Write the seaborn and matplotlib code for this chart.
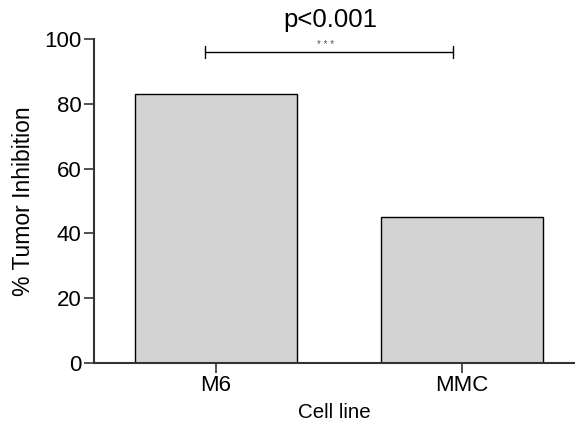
import pandas as pd
import seaborn as sns
import matplotlib.pyplot as plt

cell_lines = ["M6", "MMC"]
inhibition = [83, 45]
p_label = "p<0.001"
stars = "* * *"

df = pd.DataFrame({"Cell line": cell_lines, "inhibition": inhibition})

sns.set_style("ticks")
plt.rcParams["font.family"] = ["Liberation Sans", "DejaVu Sans"]
plt.rcParams["text.color"] = "black"
plt.rcParams["axes.labelcolor"] = "black"
plt.rcParams["xtick.color"] = "black"
plt.rcParams["ytick.color"] = "black"

fig = plt.figure(figsize=(5.75, 4.26), dpi=100)
ax = fig.add_axes([0.1635, 0.148, 0.8365, 0.7605])

sns.barplot(data=df, x="Cell line", y="inhibition", color="#d3d3d3",
            edgecolor="black", linewidth=1.0, width=0.66, saturation=1, ax=ax)

ax.set_xlim(-0.496, 1.46)
ax.set_ylim(0, 100)
ax.set_yticks([0, 20, 40, 60, 80, 100])
ax.set_ylabel("% Tumor Inhibition", fontsize=16.5, labelpad=7)
ax.set_xlabel("Cell line", fontsize=14.8, labelpad=5)
ax.tick_params(axis="both", labelsize=16, length=7, width=1.2, pad=2)
ax.tick_params(axis="both", color="#333333")

for side in ["top", "right"]:
    ax.spines[side].set_visible(False)
for side in ["left", "bottom"]:
    ax.spines[side].set_linewidth(1.5)
    ax.spines[side].set_color("#333333")

# significance bracket
x1, x2, yb, cap = -0.045, 0.963, 96, 1.85
ax.plot([x1, x2], [yb, yb], color="black", lw=1.0, clip_on=False)
ax.plot([x1, x1], [yb - cap, yb + cap], color="black", lw=1.0, clip_on=False)
ax.plot([x2, x2], [yb - cap, yb + cap], color="black", lw=1.0, clip_on=False)
ax.text(0.447, 96.6, stars, ha="center", va="bottom", fontsize=7, color="#555555")
ax.text(0.463, 106, p_label, ha="center", va="center", fontsize=18.5, clip_on=False)

fig.savefig("out.png", dpi=100)
